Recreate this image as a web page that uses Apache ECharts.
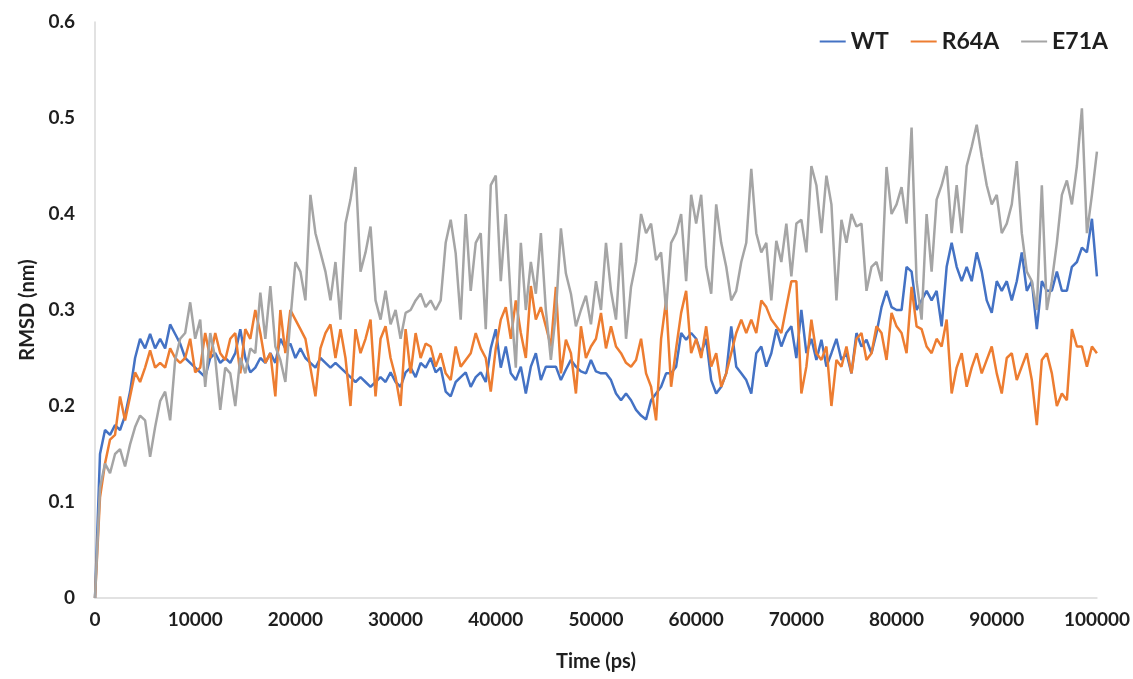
<!DOCTYPE html>
<html>
<head>
<meta charset="utf-8">
<title>RMSD</title>
<script src="https://cdn.jsdelivr.net/npm/echarts@6/dist/echarts.min.js"></script>
<style>
  html, body { margin: 0; padding: 0; background: #ffffff; }
  #chart { width: 1133px; height: 679px; }
</style>
</head>
<body>
<div id="chart"></div>
<script>
// Sampling step of the trajectory (ps) and number of frames
const STEP_PS = 500;
const FRAMES = 201;
const timePs = Array.from({ length: FRAMES }, (_, i) => i * STEP_PS);

// RMSD (nm) per frame
const wt = [
  0, 0.15, 0.175, 0.17, 0.18, 0.175, 0.19, 0.215, 0.25, 0.27, 0.26, 0.275, 0.26, 0.27, 0.26, 0.285, 0.275, 0.265, 0.25, 0.245,
  0.24, 0.235, 0.23, 0.25, 0.255, 0.245, 0.25, 0.245, 0.255, 0.28, 0.25, 0.235, 0.24, 0.25, 0.245, 0.255, 0.245, 0.27, 0.26, 0.265,
  0.25, 0.26, 0.25, 0.245, 0.24, 0.25, 0.245, 0.24, 0.245, 0.24, 0.235, 0.23, 0.225, 0.23, 0.225, 0.22, 0.225, 0.23, 0.225, 0.235,
  0.225, 0.22, 0.235, 0.24, 0.23, 0.245, 0.24, 0.25, 0.235, 0.24, 0.215, 0.21, 0.225, 0.23, 0.235, 0.22, 0.23, 0.235, 0.225, 0.26,
  0.28, 0.24, 0.262, 0.234, 0.227, 0.241, 0.213, 0.241, 0.255, 0.227, 0.241, 0.241, 0.241, 0.227, 0.238, 0.248, 0.241, 0.236, 0.234, 0.248,
  0.236, 0.234, 0.234, 0.227, 0.213, 0.206, 0.213, 0.206, 0.196, 0.19, 0.186, 0.206, 0.213, 0.22, 0.234, 0.234, 0.241, 0.276, 0.269, 0.276,
  0.27, 0.255, 0.27, 0.227, 0.213, 0.22, 0.234, 0.283, 0.241, 0.234, 0.227, 0.213, 0.255, 0.262, 0.241, 0.255, 0.28, 0.262, 0.276, 0.283,
  0.25, 0.3, 0.255, 0.27, 0.248, 0.269, 0.241, 0.255, 0.27, 0.248, 0.255, 0.234, 0.276, 0.262, 0.269, 0.255, 0.276, 0.303, 0.32, 0.303,
  0.3, 0.3, 0.345, 0.34, 0.3, 0.31, 0.32, 0.31, 0.32, 0.283, 0.345, 0.37, 0.345, 0.33, 0.345, 0.33, 0.36, 0.34, 0.31, 0.297,
  0.33, 0.32, 0.33, 0.31, 0.33, 0.36, 0.32, 0.33, 0.28, 0.33, 0.32, 0.32, 0.34, 0.32, 0.32, 0.345, 0.35, 0.365, 0.36, 0.395, 0.335
];

const r64a = [
  0, 0.105, 0.14, 0.165, 0.17, 0.21, 0.185, 0.21, 0.235, 0.225, 0.24, 0.258, 0.24, 0.245, 0.24, 0.26, 0.25, 0.245, 0.25, 0.27,
  0.235, 0.24, 0.276, 0.25, 0.276, 0.255, 0.248, 0.27, 0.276, 0.234, 0.28, 0.27, 0.3, 0.276, 0.245, 0.255, 0.21, 0.3, 0.255, 0.3,
  0.29, 0.28, 0.27, 0.24, 0.21, 0.26, 0.276, 0.285, 0.25, 0.28, 0.25, 0.2, 0.28, 0.255, 0.27, 0.29, 0.21, 0.27, 0.283, 0.25,
  0.23, 0.2, 0.28, 0.234, 0.276, 0.25, 0.265, 0.262, 0.241, 0.255, 0.234, 0.227, 0.262, 0.241, 0.248, 0.255, 0.276, 0.26, 0.25, 0.215,
  0.26, 0.29, 0.303, 0.27, 0.31, 0.276, 0.25, 0.325, 0.29, 0.303, 0.283, 0.262, 0.324, 0.234, 0.269, 0.255, 0.213, 0.283, 0.25, 0.262,
  0.27, 0.297, 0.26, 0.283, 0.262, 0.255, 0.245, 0.241, 0.248, 0.27, 0.234, 0.22, 0.185, 0.27, 0.31, 0.22, 0.26, 0.297, 0.32, 0.255,
  0.27, 0.25, 0.283, 0.241, 0.255, 0.22, 0.234, 0.255, 0.276, 0.29, 0.276, 0.29, 0.276, 0.31, 0.303, 0.29, 0.283, 0.276, 0.303, 0.33,
  0.33, 0.213, 0.241, 0.29, 0.255, 0.248, 0.262, 0.2, 0.248, 0.241, 0.262, 0.234, 0.27, 0.276, 0.248, 0.255, 0.283, 0.276, 0.248, 0.297,
  0.283, 0.276, 0.255, 0.324, 0.283, 0.28, 0.262, 0.255, 0.27, 0.262, 0.29, 0.213, 0.24, 0.255, 0.22, 0.24, 0.255, 0.234, 0.248, 0.262,
  0.234, 0.213, 0.25, 0.255, 0.227, 0.241, 0.255, 0.227, 0.18, 0.248, 0.255, 0.234, 0.2, 0.213, 0.206, 0.28, 0.262, 0.262, 0.241, 0.262, 0.255
];

const e71a = [
  0, 0.115, 0.14, 0.13, 0.15, 0.155, 0.137, 0.16, 0.178, 0.19, 0.185, 0.147, 0.178, 0.205, 0.215, 0.185, 0.248, 0.27, 0.276, 0.308,
  0.27, 0.29, 0.22, 0.276, 0.25, 0.196, 0.24, 0.234, 0.2, 0.25, 0.234, 0.26, 0.255, 0.318, 0.27, 0.325, 0.262, 0.248, 0.225, 0.29,
  0.35, 0.34, 0.31, 0.42, 0.38, 0.36, 0.34, 0.31, 0.35, 0.29, 0.39, 0.415, 0.449, 0.34, 0.36, 0.387, 0.31, 0.29, 0.32, 0.285,
  0.3, 0.27, 0.297, 0.3, 0.31, 0.317, 0.303, 0.31, 0.3, 0.31, 0.37, 0.394, 0.359, 0.29, 0.4, 0.32, 0.37, 0.38, 0.28, 0.43,
  0.44, 0.33, 0.4, 0.31, 0.24, 0.37, 0.3, 0.35, 0.317, 0.38, 0.3, 0.248, 0.297, 0.385, 0.338, 0.317, 0.283, 0.3, 0.315, 0.285,
  0.33, 0.3, 0.37, 0.32, 0.29, 0.37, 0.27, 0.324, 0.35, 0.4, 0.38, 0.39, 0.352, 0.36, 0.3, 0.37, 0.38, 0.4, 0.33, 0.42,
  0.39, 0.42, 0.345, 0.317, 0.41, 0.37, 0.345, 0.31, 0.32, 0.35, 0.37, 0.447, 0.38, 0.36, 0.37, 0.31, 0.372, 0.35, 0.39, 0.335,
  0.39, 0.394, 0.36, 0.45, 0.43, 0.38, 0.44, 0.41, 0.31, 0.394, 0.37, 0.4, 0.387, 0.39, 0.32, 0.345, 0.35, 0.33, 0.449, 0.4,
  0.41, 0.428, 0.39, 0.49, 0.33, 0.29, 0.4, 0.34, 0.415, 0.43, 0.45, 0.38, 0.43, 0.38, 0.45, 0.47, 0.493, 0.46, 0.43, 0.41,
  0.42, 0.38, 0.39, 0.41, 0.455, 0.38, 0.34, 0.33, 0.3, 0.43, 0.3, 0.33, 0.37, 0.42, 0.435, 0.41, 0.45, 0.51, 0.38, 0.42, 0.465
];

const seriesNames = ['WT', 'R64A', 'E71A'];
const seriesColors = ['#4472C4', '#ED7D31', '#A5A5A5'];
const seriesValues = [wt, r64a, e71a];

const FONT = 'Lato, "Open Sans", sans-serif';
const TEXT = '#1f1f1f';

const chart = echarts.init(document.getElementById('chart'), null, { renderer: 'canvas' });

chart.setOption({
  backgroundColor: '#ffffff',
  animation: false,
  textStyle: { fontFamily: FONT },
  grid: { left: 95, right: 33, top: 22, bottom: 81, containLabel: false },
  legend: {
    data: seriesNames,
    right: 20,
    top: 25,
    icon: 'rect',
    itemWidth: 26,
    itemHeight: 2,
    itemGap: 22,
    textStyle: { fontFamily: FONT, fontSize: 23, fontWeight: 'bold', color: TEXT }
  },
  xAxis: {
    type: 'value',
    min: 0,
    max: 100000,
    interval: 10000,
    name: 'Time (ps)',
    nameLocation: 'middle',
    nameGap: 54,
    nameTextStyle: { fontFamily: FONT, fontSize: 20, fontWeight: 'bold', color: TEXT },
    axisLine: { show: true, lineStyle: { color: '#d9d9d9', width: 1.5 } },
    axisTick: { show: false },
    splitLine: { show: false },
    axisLabel: {
      margin: 12, fontFamily: FONT, fontSize: 19, fontWeight: 'bold', color: TEXT,
      showMaxLabel: true, showMinLabel: true,
      formatter: v => String(v)
    }
  },
  yAxis: {
    type: 'value',
    min: 0,
    max: 0.6,
    interval: 0.1,
    name: 'RMSD (nm)',
    nameLocation: 'middle',
    nameGap: 57,
    nameTextStyle: { fontFamily: FONT, fontSize: 20, fontWeight: 'bold', color: TEXT },
    axisLine: { show: true, lineStyle: { color: '#d9d9d9', width: 1.5 } },
    axisTick: { show: false },
    splitLine: { show: false },
    axisLabel: {
      margin: 20,
      fontFamily: FONT, fontSize: 19, fontWeight: 'bold', color: TEXT,
      formatter: v => String(Math.round(v * 10) / 10)
    }
  },
  series: seriesNames.map((name, k) => ({
    name,
    type: 'line',
    showSymbol: false,
    symbol: 'none',
    color: seriesColors[k],
    lineStyle: { width: 2.5, color: seriesColors[k] },
    data: timePs.map((t, i) => [t, seriesValues[k][i]])
  }))
});
</script>
</body>
</html>
